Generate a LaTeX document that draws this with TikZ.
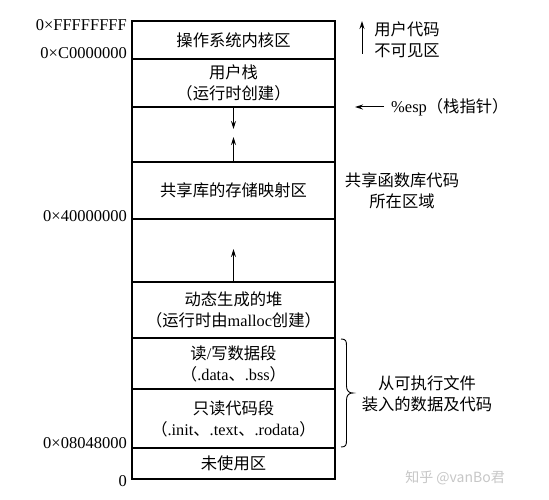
\documentclass[tikz,border=0pt]{standalone}
\usepackage{fontspec}
\setmainfont{Liberation Serif}
\newfontfamily\cjk{Noto Sans CJK SC}
\usetikzlibrary{arrows.meta}
\begin{document}
\begin{tikzpicture}[x=1pt,y=-1pt,
  region/.style={draw,line width=1.5pt,minimum width=203pt,inner sep=0pt,align=center,font=\fontsize{16.3}{21}\selectfont\cjk},
  addr/.style={anchor=east,inner sep=0pt,font=\fontsize{16.5}{18}\selectfont},
  note/.style={align=center,inner sep=0pt,font=\fontsize{16.3}{21}\selectfont\cjk},
  growarrow/.style={-{Stealth[length=8pt,width=5pt]},line width=1pt}]
\useasboundingbox[fill=white] (0,0) rectangle (549,500);
% memory regions
\node[region,minimum height=38pt] (kernel) at (233.5,40) {操作系统内核区};
\node[region,minimum height=48pt] (stack) at (233.5,83) {用户栈\\（运行时创建）};
\node[region,minimum height=55pt] (gapA) at (233.5,134.5) {};
\node[region,minimum height=57pt] (shared) at (233.5,190.5) {共享库的存储映射区};
\node[region,minimum height=63pt] (gapB) at (233.5,250.5) {};
\node[region,minimum height=56pt] (heap) at (233.5,310) {动态生成的堆\\（运行时由{\rmfamily malloc}创建）};
\node[region,minimum height=51pt] (rw) at (233.5,363.5) {读{\rmfamily /}写数据段\\（{\rmfamily .data}、{\rmfamily .bss}）};
\node[region,minimum height=59pt] (ro) at (233.5,418.5) {只读代码段\\（{\rmfamily .init}、{\rmfamily .text}、{\rmfamily .rodata}）};
\node[region,minimum height=31pt] (unused) at (233.5,463.5) {未使用区};
% addresses
\node[addr] (aF) at (127,25) {0×FFFFFFFF};
\node[addr] (aC) at (127,53) {0×C0000000};
\node[addr] (a4) at (127,216) {0×40000000};
\node[addr] (a8) at (127,443) {0×08048000};
\node[addr] (a0) at (127,481) {0};
% growth arrows
\coordinate (stackEnd) at (233.5,129);
\coordinate (mmapEnd) at (233.5,137);
\coordinate (heapEnd) at (233.5,249);
\draw[growarrow] (stack.south) -- (stackEnd);
\draw[growarrow] (shared.north) -- (mmapEnd);
\draw[growarrow] (heap.north) -- (heapEnd);
% right side notes
\node[note] (invis) at (407,39.5) {用户代码\\不可见区};
\coordinate (invB) at (362,54);
\coordinate (invT) at (362,21);
\draw[growarrow] (invB) -- (invT);
\node[note,anchor=west] (esp) at (391,107) {{\rmfamily\fontsize{16.5}{18}\selectfont \%esp}（栈指针）};
\coordinate (espS) at (384,107);
\coordinate (espE) at (355,107);
\draw[growarrow] (espS) -- (espE);
\node[note] (shnote) at (402,190.5) {共享函数库代码\\所在区域};
% brace
\coordinate (bT) at (341,339);
\coordinate (bB) at (341,447);
\coordinate (bTip) at (353,393);
\draw[line width=0.9pt] (bT) .. controls (346,339) and (346.5,341) .. (346.5,346) -- (346.5,386)
  .. controls (346.5,391) and (349,393) .. (bTip)
  .. controls (349,393) and (346.5,395) .. (346.5,400) -- (346.5,440)
  .. controls (346.5,445) and (346,447) .. (bB);
\node[note] (loadnote) at (427,393.5) {从可执行文件\\装入的数据及代码};
% watermark
\node[inner sep=0pt,text=black!22,font=\fontsize{14}{16}\selectfont\cjk] (wm) at (455,478) {知乎 @vanBo君};
\end{tikzpicture}
\end{document}
